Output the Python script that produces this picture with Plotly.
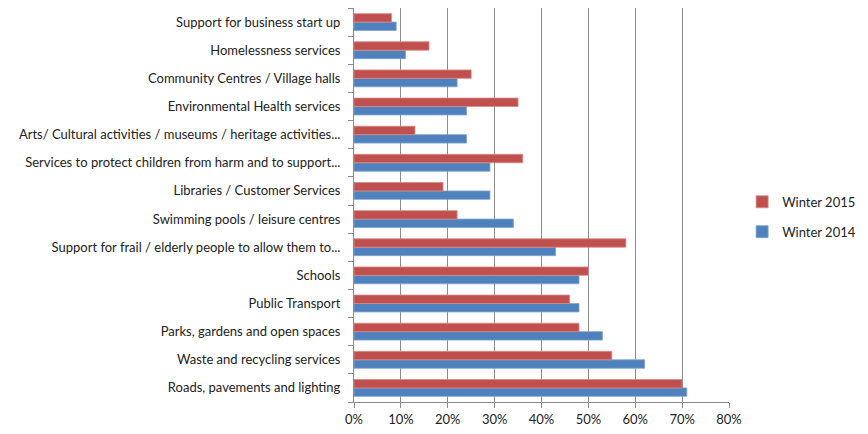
import plotly.graph_objects as go

# categories listed bottom to top
services = [
    "Roads, pavements and lighting",
    "Waste and recycling services",
    "Parks, gardens and open spaces",
    "Public Transport",
    "Schools",
    "Support for frail / elderly people to allow them to...",
    "Swimming pools / leisure centres",
    "Libraries / Customer Services",
    "Services to protect children from harm and to support...",
    "Arts/ Cultural activities / museums / heritage activities...",
    "Environmental Health services",
    "Community Centres / Village halls",
    "Homelessness services",
    "Support for business start up",
]
winter_2015 = [0.70, 0.55, 0.48, 0.46, 0.50, 0.58, 0.22, 0.19, 0.36, 0.13, 0.35, 0.25, 0.16, 0.08]
winter_2014 = [0.71, 0.62, 0.53, 0.48, 0.48, 0.43, 0.34, 0.29, 0.29, 0.24, 0.24, 0.22, 0.11, 0.09]

fig = go.Figure()
# first trace sits at the bottom of each group
fig.add_trace(go.Bar(y=services, x=winter_2014, name="Winter 2014", orientation="h",
                     legendgroup="a", legendrank=2,
                     marker=dict(color="#4F81BD", line=dict(color="#7FA3D0", width=0.8))))
fig.add_trace(go.Bar(y=services, x=winter_2015, name="Winter 2015", orientation="h",
                     legendgroup="b", legendrank=1,
                     marker=dict(color="#C0504D", line=dict(color="#D88A88", width=0.8))))

# page body adds an 8px offset, so the figure is a bit smaller than the window
fig.update_layout(
    width=860, height=426,
    margin=dict(l=346, r=139, t=0, b=32, autoexpand=False),
    barmode="group", bargap=0.4, bargroupgap=0,
    plot_bgcolor="white", paper_bgcolor="white",
    font=dict(family="Lato, Open Sans, sans-serif", size=13, color="#222"),
    legend=dict(x=1.035, y=0.47, xanchor="left", yanchor="middle",
                traceorder="grouped", font=dict(size=13), itemwidth=30,
                tracegroupgap=10),
    showlegend=True,
)
fig.update_xaxes(range=[0, 0.8], dtick=0.1, tickformat=".0%",
                 showgrid=True, gridcolor="#8C8C8C", gridwidth=1,
                 showline=True, linecolor="#8C8C8C", ticks="outside",
                 tickcolor="#8C8C8C", ticklen=5, zeroline=False)
fig.update_yaxes(showline=True, linecolor="#8C8C8C", ticks="outside",
                 tickson="boundaries", tickcolor="#8C8C8C", ticklen=5,
                 ticklabelstandoff=10)

fig.write_html("out.html")
